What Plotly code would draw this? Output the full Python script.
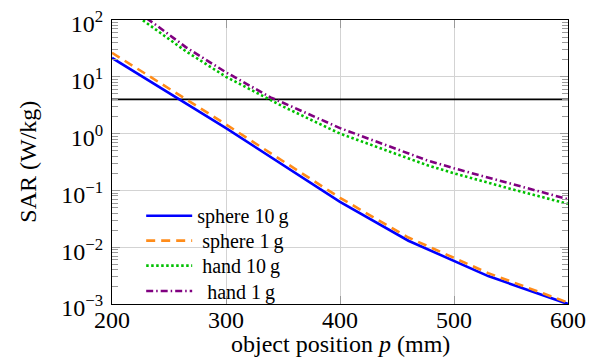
import plotly.graph_objects as go

# --- data ---
sphere_x = [200, 300, 400, 460, 530, 600]
sphere10_y = [21.5, 1.25, 0.063, 0.013, 0.0031, 0.001]
sphere1_y = [26.5, 1.45, 0.074, 0.0148, 0.0035, 0.00106]

hand_x = [220, 240, 265, 300, 339, 350, 400, 450, 476, 500, 550, 600]
hand10_y = [125, 64, 28, 10, 4.0, 3.0, 1.0, 0.43, 0.28, 0.2, 0.106, 0.058]
hand1_y = [150, 78, 33, 12, 4.35, 3.5, 1.25, 0.52, 0.34, 0.245, 0.13, 0.07]

limit_x = [200, 600]
limit_y = [4, 4]

y_tickvals = [1e-3, 1e-2, 1e-1, 1e0, 1e1, 1e2]
y_ticktext = ["10<sup>−3</sup>", "10<sup>−2</sup>", "10<sup>−1</sup>",
              "10<sup>0</sup>", "10<sup>1</sup>", "10<sup>2</sup>"]
y_minor = [m * 10 ** e for e in range(-3, 2) for m in range(2, 10)]
x_tickvals = [200, 300, 400, 500, 600]

FONT = "Liberation Serif"
NB = "\u00a0"

fig = go.Figure()
fig.add_trace(go.Scatter(x=limit_x, y=limit_y, mode="lines",
                         line=dict(color="black", width=1.8), showlegend=False))
fig.add_trace(go.Scatter(x=sphere_x, y=sphere10_y, mode="lines", name="sphere 10\u2009g",
                         legend="legend",
                         line=dict(color="#0000ff", width=2.6)))
fig.add_trace(go.Scatter(x=sphere_x, y=sphere1_y, mode="lines", name=NB + "sphere 1\u2009g",
                         legend="legend2",
                         line=dict(color="#ff8c1a", width=2.6, dash="9px,6px")))
fig.add_trace(go.Scatter(x=hand_x, y=hand10_y, mode="lines", name=NB + "hand 10\u2009g",
                         legend="legend3",
                         line=dict(color="#00c000", width=2.6, dash="2.5px,2.5px")))
fig.add_trace(go.Scatter(x=hand_x, y=hand1_y, mode="lines", name=NB + NB + "hand 1\u2009g",
                         legend="legend4",
                         line=dict(color="#800080", width=2.6, dash="7px,3px,1.5px,3px")))

axis_common = dict(
    showline=True, linecolor="black", linewidth=1.3, mirror="ticks",
    ticks="inside", tickcolor="#9a9a9a", ticklen=8, tickwidth=1,
    showgrid=True, gridcolor="#d3d3d3", gridwidth=1,
    zeroline=False, automargin=False, ticklabeloverflow="allow",
    tickfont=dict(family=FONT, size=24, color="black"),
)

fig.update_xaxes(range=[200, 600], tickmode="array", tickvals=x_tickvals,
                 ticklabelstandoff=-6, **axis_common)
fig.update_yaxes(type="log", range=[-3, 2], tickmode="array",
                 tickvals=y_tickvals, ticktext=y_ticktext,
                 ticklabelstandoff=3, ticklabelshift=4,
                 minor=dict(tickmode="array", tickvals=y_minor, ticks="inside",
                            ticklen=6, tickcolor="#9a9a9a", showgrid=False),
                 **axis_common)


def leg(yc):
    return dict(x=0.064, y=yc, xanchor="left", yanchor="middle",
                bgcolor="rgba(0,0,0,0)", borderwidth=0,
                font=dict(family=FONT, size=20, color="black"),
                itemwidth=46, tracegroupgap=0)


fig.update_layout(
    width=588, height=350,
    margin=dict(l=104, r=28, t=12, b=54),
    paper_bgcolor="white", plot_bgcolor="white",
    font=dict(family=FONT, color="black"),
    showlegend=True,
    legend=leg(0.311), legend2=leg(0.223), legend3=leg(0.135), legend4=leg(0.046),
    annotations=[
        dict(text="object position <i>p</i> (mm)", xref="paper", yref="paper",
             x=0.5, y=-0.142, xanchor="center", yanchor="middle", showarrow=False,
             font=dict(family=FONT, size=24, color="black")),
        dict(text="SAR (W/kg)", xref="paper", yref="paper", textangle=-90,
             x=-0.185, y=0.5, xanchor="center", yanchor="middle", showarrow=False,
             font=dict(family=FONT, size=24, color="black")),
    ],
)

fig.write_html("out.html")
